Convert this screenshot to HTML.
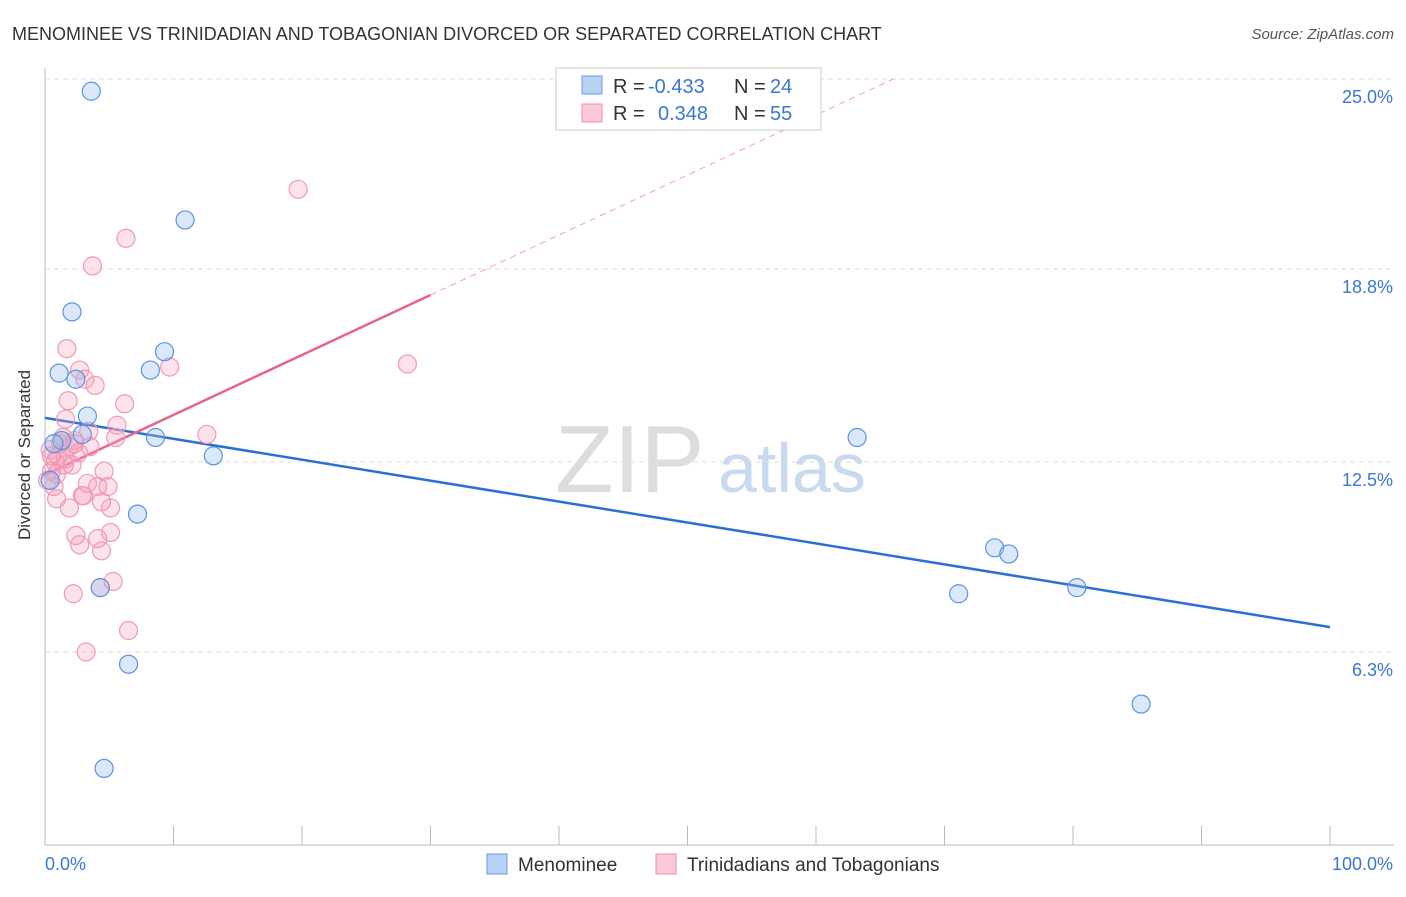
<!DOCTYPE html>
<html><head><meta charset="utf-8"><style>
body{margin:0;background:#fff;font-family:"Liberation Sans",sans-serif;}
svg text{font-family:"Liberation Sans",sans-serif;}
</style></head><body>
<svg width="1406" height="892" xmlns="http://www.w3.org/2000/svg">
<text x="12" y="40" font-size="18" fill="#333">MENOMINEE VS TRINIDADIAN AND TOBAGONIAN DIVORCED OR SEPARATED CORRELATION CHART</text>
<text x="1394" y="39" font-size="15" fill="#555" font-style="italic" text-anchor="end">Source: ZipAtlas.com</text>
<text x="30" y="455" font-size="17" fill="#333" text-anchor="middle" transform="rotate(-90 30 455)">Divorced or Separated</text>
<text x="555" y="492" font-size="96" fill="#ddd" font-family="Liberation Serif">ZIP</text>
<text x="718" y="492" font-size="70" fill="#c9d9f0">atlas</text>
<g id="grid"></g><g id="axes"></g><g id="lines"></g><g id="pts"></g>
<g>
<rect x="556" y="68" width="265" height="62" fill="#fff" stroke="#ccc"/>
<rect x="582" y="76" width="20" height="18" fill="#b8d2f5" stroke="#6a9be0"/>
<rect x="582" y="104" width="20" height="18" fill="#fac8d6" stroke="#ec8fab"/>
<text x="613" y="93" font-size="20" fill="#333">R = </text><text x="648" y="93" font-size="20" fill="#3a76d8">-0.433</text>
<text x="734" y="93" font-size="20" fill="#333">N = </text><text x="770" y="93" font-size="20" fill="#3a76d8">24</text>
<text x="613" y="120" font-size="20" fill="#333">R = </text><text x="658" y="120" font-size="20" fill="#3a76d8">0.348</text>
<text x="734" y="120" font-size="20" fill="#333">N = </text><text x="770" y="120" font-size="20" fill="#3a76d8">55</text>
</g>
<g>
<rect x="487" y="854" width="20" height="20" fill="#b8d2f5" stroke="#6a9be0"/>
<text x="518" y="871" font-size="19" fill="#333">Menominee</text>
<rect x="656" y="854" width="20" height="20" fill="#fac8d6" stroke="#ec8fab"/>
<text x="687" y="871" font-size="19" fill="#333">Trinidadians and Tobagonians</text>
</g>
</svg>
<script>
const blueX=[3.6,10.9,2.1,9.3,1.1,8.2,2.4,3.3,8.6,2.9,1.3,0.7,13.1,7.2,4.3,6.5,4.6,63.2,73.9,75.0,71.1,80.3,85.3,0.4];
const blueY=[24.6,20.4,17.4,16.1,15.4,15.5,15.2,14.0,13.3,13.4,13.2,13.1,12.7,10.8,8.4,5.9,2.5,13.3,9.7,9.5,8.2,8.4,4.6,11.9];
const pinkX=[19.7,6.3,3.7,1.7,28.2,9.7,2.7,3.1,3.9,1.8,6.2,1.6,5.6,3.4,12.6,5.5,1.3,2.3,1.9,0.4,1.0,2.6,0.8,1.5,2.1,4.6,3.3,4.9,4.1,2.9,3.0,0.9,5.1,1.9,4.4,0.7,5.1,4.1,2.4,2.7,4.4,5.3,4.3,2.2,6.5,3.2,0.2,0.5,1.2,1.6,3.5,0.5,0.9,1.4,2.3];
const pinkY=[21.4,19.8,18.9,16.2,15.7,15.6,15.5,15.2,15.0,14.5,14.4,13.9,13.7,13.5,13.4,13.3,13.2,13.1,13.0,12.9,12.7,12.8,12.5,12.4,12.4,12.2,11.8,11.7,11.7,11.4,11.4,11.3,11.0,11.0,11.2,11.7,10.2,10.0,10.1,9.8,9.6,8.6,8.4,8.2,7.0,6.3,11.9,12.2,13.1,12.6,13.0,12.7,12.1,13.3,13.2];
const yTicks=[6.3,12.5,18.8,25.0];
const yTickLabels=["6.3%","12.5%","18.8%","25.0%"];
const blueTrend=[13.94,7.11];
const pinkTrend=[12.08,0.1957];
const NS="http://www.w3.org/2000/svg";
const sx=v=>45+v*12.85, sy=v=>845-v*30.64;
function mk(t,a,p){const e=document.createElementNS(NS,t);for(const k in a)e.setAttribute(k,a[k]);document.getElementById(p).appendChild(e);return e;}
yTicks.forEach((t,i)=>{
 const g=mk('line',{x1:45,x2:1394,y1:sy(t),y2:sy(t),stroke:'#ddd','stroke-dasharray':'5,4'},'grid');
 
 
 const l=mk('text',{x:1393,y:sy(t)+24,'font-size':18,fill:'#3a76d8','text-anchor':'end'},'grid');
 l.textContent=yTickLabels[i];
 
 
});
const ax=mk('line',{x1:45,x2:45,y1:68,y2:845,stroke:'#bbb'},'axes');


const bx=mk('line',{x1:45,x2:1394,y1:845,y2:845,stroke:'#bbb'},'axes');


for(let i=0;i<=10;i++){const t=mk('line',{x1:sx(i*10),x2:sx(i*10),y1:826,y2:845,stroke:'#bbb'},'axes');
 
 }
const x0=mk('text',{x:45,y:870,'font-size':18,fill:'#3a76d8'},'axes');x0.textContent='0.0%';


const x1=mk('text',{x:1393,y:870,'font-size':18,fill:'#3a76d8','text-anchor':'end'},'axes');x1.textContent='100.0%';


const bl=mk('line',{x1:sx(0),y1:sy(blueTrend[0]),x2:sx(100),y2:sy(blueTrend[1]),stroke:'#2a6fd6','stroke-width':2.5},'lines');


const pe=(25-pinkTrend[0])/pinkTrend[1];
const pd=mk('line',{x1:sx(30),y1:sy(pinkTrend[0]+30*pinkTrend[1]),x2:sx(pe),y2:sy(25),stroke:'#f0a0b8','stroke-width':1,'stroke-dasharray':'6,5'},'lines');


const pl=mk('line',{x1:sx(0),y1:sy(pinkTrend[0]),x2:sx(30),y2:sy(pinkTrend[0]+30*pinkTrend[1]),stroke:'#e8638c','stroke-width':2.5},'lines');


pinkX.forEach((x,i)=>{const c=mk('circle',{cx:sx(x),cy:sy(pinkY[i]),r:9,fill:'rgba(246,160,186,0.3)',stroke:'#f09ab4','stroke-width':1.2},'pts');
 
 });
blueX.forEach((x,i)=>{const c=mk('circle',{cx:sx(x),cy:sy(blueY[i]),r:9,fill:'rgba(150,190,240,0.35)',stroke:'#5b93e0','stroke-width':1.2},'pts');
 
 });
</script>
</body></html>
